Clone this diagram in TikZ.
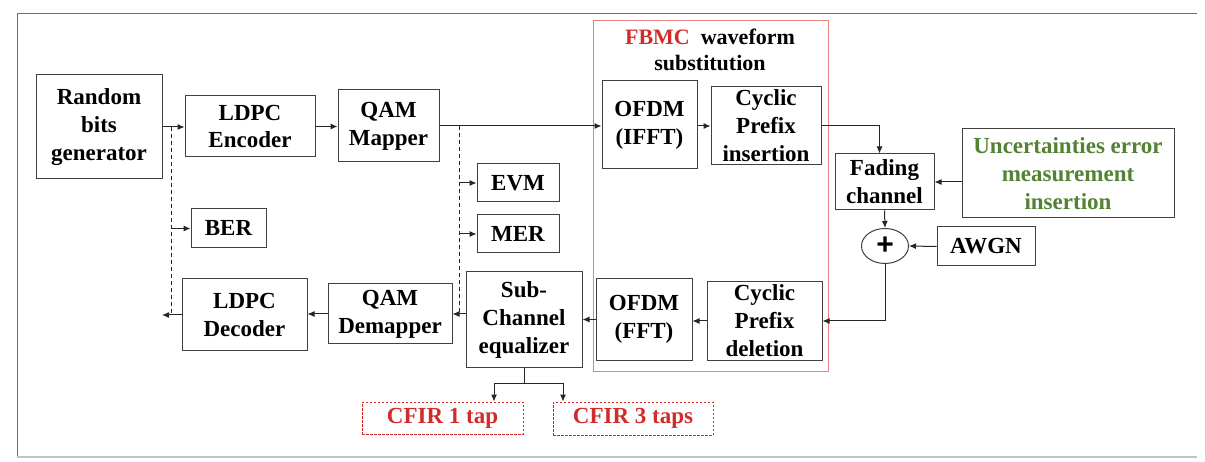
\documentclass[tikz,border=0pt]{standalone}
\usepackage{fontspec}
\setmainfont{Liberation Serif}
\newfontfamily\plusfont{Liberation Sans}
\usetikzlibrary{arrows.meta,calc,shapes.geometric}
\definecolor{boxc}{HTML}{404040}
\definecolor{redt}{HTML}{D22B2B}
\definecolor{redf}{HTML}{E88080}
\definecolor{greent}{HTML}{548235}
\definecolor{framec}{HTML}{707070}
\definecolor{framel}{HTML}{C4C4C4}
\begin{document}
\begin{tikzpicture}[x=1pt,y=-1pt,
 blk/.style={draw=boxc, line width=1pt, align=center, inner sep=0pt, font=\fontsize{23}{28}\selectfont\bfseries},
 arr/.style={draw=black!85, line width=1pt, -{Latex[length=7pt,width=6pt]}},
 ln/.style={draw=black!85, line width=1pt},
 dsh/.style={draw=black!85, line width=1pt, dash pattern=on 4pt off 3pt},
 cfir/.style={blk, draw=redt, dash pattern=on 2.5pt off 1.5pt, text=redt},
]
\useasboundingbox (0,0) rectangle (1205,462);
\fill[white] (0,0) rectangle (1205,462);
% frame
\draw[framec, line width=0.9pt] (1197,13) -- (17,13) -- (17,457);
\draw[framel, line width=1.2pt] (17,457) -- (1197,457);
% FBMC region
\node[draw=redf, line width=0.9pt, minimum width=235pt, minimum height=351pt, inner sep=0pt] (fbmc) at (710.5,195.5) {};
\node[font=\fontsize{22}{26}\selectfont\bfseries, align=center] (title) at (710,50) {\textcolor{redt}{FBMC}\ \ waveform\\substitution};
% blocks
\node[blk, minimum width=126pt, minimum height=104pt] (rbg) at (99,127) {Random\\bits\\generator};
\node[blk, minimum width=130pt, minimum height=61pt] (enc) at (250,126.5) {LDPC\\Encoder};
\node[blk, minimum width=101pt, minimum height=72pt] (map) at (388.5,126) {QAM\\Mapper};
\node[blk, minimum width=75pt, minimum height=39pt] (ber) at (228.5,228.5) {BER};
\node[blk, minimum width=82pt, minimum height=38pt] (evm) at (518,183) {EVM};
\node[blk, minimum width=82pt, minimum height=38pt] (mer) at (518,234) {MER};
\node[blk, minimum width=95pt, minimum height=88pt] (ifft) at (649.5,125) {OFDM\\(IFFT)};
\node[blk, minimum width=110pt, minimum height=78pt] (cpi) at (766,126) {Cyclic\\Prefix\\insertion};
\node[blk, minimum width=99pt, minimum height=56pt] (fad) at (884.5,182) {Fading\\channel};
\node[blk, minimum width=212pt, minimum height=89pt, text=greent] (unc) at (1068,173.5) {Uncertainties error\\measurement\\insertion};
\node[draw=boxc, line width=1pt, ellipse, minimum width=47pt, minimum height=35pt, inner sep=0pt, font=\plusfont\fontsize{30}{30}\selectfont\bfseries] (plus) at (885,246) {+};
\node[blk, minimum width=98pt, minimum height=39pt] (awgn) at (986,246.5) {AWGN};
\node[blk, minimum width=115pt, minimum height=78pt] (cpd) at (764.5,321) {Cyclic\\Prefix\\deletion};
\node[blk, minimum width=96pt, minimum height=81pt] (fft) at (644,319.5) {OFDM\\(FFT)};
\node[blk, minimum width=116pt, minimum height=95pt] (sce) at (524,319.5) {Sub-\\Channel\\equalizer};
\node[blk, minimum width=124pt, minimum height=60pt] (dem) at (390,314) {QAM\\Demapper};
\node[blk, minimum width=125pt, minimum height=72pt] (dec) at (244.5,315) {LDPC\\Decoder};
\node[cfir, minimum width=161pt, minimum height=32pt] (cf1) at (442.5,418) {CFIR 1 tap};
\node[cfir, minimum width=160pt, minimum height=33pt] (cf3) at (633,418.5) {CFIR 3 taps};
% coordinates
\coordinate (d1) at (171,127);
\coordinate (d1e) at (171,315);
\coordinate (out) at (162,315);
\coordinate (d2) at (459,126);
\coordinate (d2e) at (459,314);
\coordinate (br) at ($(sce.south)+(0,16)$);
% connectors
\draw[arr] (rbg.east |- d1) -- (enc.west |- d1);
\draw[arr] (enc.east) -- (map.west |- enc.east);
\draw[arr] (map.east) -- (ifft.west |- map.east);
\draw[arr] (ifft.east |- cpi.west) -- (cpi.west);
\draw[arr] (cpi.east) -| ([xshift=-5pt]fad.north);
\draw[arr] (unc.west |- fad.east) -- (fad.east);
\draw[arr] (fad.south) -- (plus.north);
\draw[arr] (awgn.west) -- (plus.east);
\draw[arr] (plus.south) |- (cpd.east);
\draw[arr] (cpd.west) -- (fft.east |- cpd.west);
\draw[arr] (fft.west) -- (sce.east |- fft.west);
\draw[arr] (sce.west |- dem.east) -- (dem.east);
\draw[arr] (dem.west) -- (dec.east |- dem.west);
\draw[arr] (dec.west |- out) -- (out);
\draw[dsh] (d1) -- (d1e);
\draw[arr] (d1 |- ber.west) -- (ber.west);
\draw[dsh] (d2) -- (d2e);
\draw[arr] (d2 |- evm.west) -- (evm.west);
\draw[arr] (d2 |- mer.west) -- (mer.west);
\draw[ln] (sce.south) -- (br);
\draw[arr] (br) -| ([xshift=51.5pt]cf1.north);
\draw[arr] (br) -| ([xshift=-70pt]cf3.north);
\end{tikzpicture}
\end{document}
